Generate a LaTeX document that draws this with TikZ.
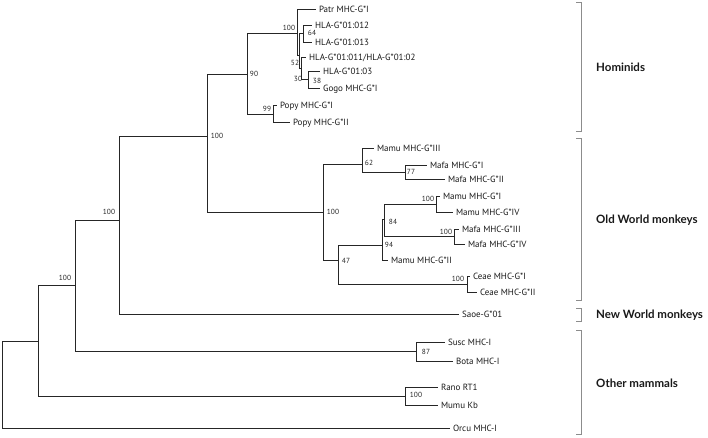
\documentclass[tikz,border=0pt]{standalone}
\usepackage{fontspec}
\setmainfont{PT Sans}
\newfontfamily\cladefont{Lato}
\begin{document}
\begin{tikzpicture}[x=1pt,y=-1pt,
  br/.style={draw=black!85, line width=1pt},
  leaf/.style={anchor=base west, inner sep=0pt, xshift=2.8pt, yshift=-3.2pt, font=\fontsize{9}{10}\selectfont, text=black!90},
  boot/.style={inner sep=0pt, font=\fontsize{7.4}{8}\selectfont, text=black!85},
  clade/.style={anchor=west, inner sep=0pt, font=\cladefont\bfseries\fontsize{11.5}{13}\selectfont, text=black!90},
  bracket/.style={draw=black!45, line width=0.8pt}]
\useasboundingbox (0,0) rectangle (708,437);

% internal nodes
\coordinate (root) at (2,385);
\coordinate (n38) at (38,341);
\coordinate (n75) at (75,285);
\coordinate (n119) at (119,220);
\coordinate (n208) at (207,136);
\coordinate (n247) at (247,74);
\coordinate (nP) at (297,33);
\coordinate (n52) at (299,55);
\coordinate (n64) at (303,33.5);
\coordinate (n30) at (301,68);
\coordinate (nG) at (308,79.5);
\coordinate (nPopy) at (273,114);
\coordinate (nOWM) at (323,212);
\coordinate (n62) at (362,164);
\coordinate (n77) at (405,172);
\coordinate (n47) at (338,260);
\coordinate (n94) at (382,245);
\coordinate (n84) at (384,219.5);
\coordinate (nMamu) at (436,204);
\coordinate (nMafa) at (454,236);
\coordinate (nCeae) at (467,284);
\coordinate (nSusc) at (416,351);
\coordinate (nRano) at (405,396);

% leaves
\coordinate (l1) at (316,9);
\coordinate (l2) at (312,25);
\coordinate (l3) at (312,42);
\coordinate (l4) at (306,57);
\coordinate (l5) at (320,71);
\coordinate (l6) at (320,88);
\coordinate (l7) at (277,105);
\coordinate (l8) at (290,122);
\coordinate (l9) at (374,148);
\coordinate (l10) at (427,165);
\coordinate (l11) at (445,179);
\coordinate (l12) at (440,196);
\coordinate (l13) at (453,212);
\coordinate (l14) at (459,229);
\coordinate (l15) at (465,244);
\coordinate (l16) at (388,260);
\coordinate (l17) at (470,276);
\coordinate (l18) at (477,292);
\coordinate (l19) at (459,314);
\coordinate (l20) at (445,342);
\coordinate (l21) at (453,361);
\coordinate (l22) at (438,387);
\coordinate (l23) at (438,405);
\coordinate (l24) at (450,428);

\node[leaf] (t1) at (l1) {Patr MHC-G*I};
\node[leaf] (t2) at (l2) {HLA-G*01:012};
\node[leaf] (t3) at (l3) {HLA-G*01:013};
\node[leaf] (t4) at (l4) {HLA-G*01:011/HLA-G*01:02};
\node[leaf] (t5) at (l5) {HLA-G*01:03};
\node[leaf] (t6) at (l6) {Gogo MHC-G*I};
\node[leaf] (t7) at (l7) {Popy MHC-G*I};
\node[leaf] (t8) at (l8) {Popy MHC-G*II};
\node[leaf] (t9) at (l9) {Mamu MHC-G*III};
\node[leaf] (t10) at (l10) {Mafa MHC-G*I};
\node[leaf] (t11) at (l11) {Mafa MHC-G*II};
\node[leaf] (t12) at (l12) {Mamu MHC-G*I};
\node[leaf] (t13) at (l13) {Mamu MHC-G*IV};
\node[leaf] (t14) at (l14) {Mafa MHC-G*III};
\node[leaf] (t15) at (l15) {Mafa MHC-G*IV};
\node[leaf] (t16) at (l16) {Mamu MHC-G*II};
\node[leaf] (t17) at (l17) {Ceae MHC-G*I};
\node[leaf] (t18) at (l18) {Ceae MHC-G*II};
\node[leaf] (t19) at (l19) {Saoe-G*01};
\node[leaf] (t20) at (l20) {Susc MHC-I};
\node[leaf] (t21) at (l21) {Bota MHC-I};
\node[leaf] (t22) at (l22) {Rano RT1};
\node[leaf] (t23) at (l23) {Mumu Kb};
\node[leaf] (t24) at (l24) {Orcu MHC-I};

% branches
\draw[br] (root) |- (n38);
\draw[br] (root) |- (l24);
\draw[br] (n38) |- (n75);
\draw[br] (n38) |- (nRano);
\draw[br] (n75) |- (n119);
\draw[br] (n75) |- (nSusc);
\draw[br] (n119) |- (n208);
\draw[br] (n119) |- (l19);
\draw[br] (n208) |- (n247);
\draw[br] (n208) |- (nOWM);
\draw[br] (n247) |- (nP);
\draw[br] (n247) |- (nPopy);
\draw[br] (nP) |- (l1);
\draw[br] (nP) |- (n52);
\draw[br] (n52) |- (n64);
\draw[br] (n52) |- (n30);
\draw[br] (n64) |- (l2);
\draw[br] (n64) |- (l3);
\draw[br] (n30) |- (l4);
\draw[br] (n30) |- (nG);
\draw[br] (nG) |- (l5);
\draw[br] (nG) |- (l6);
\draw[br] (nPopy) |- (l7);
\draw[br] (nPopy) |- (l8);
\draw[br] (nOWM) |- (n62);
\draw[br] (nOWM) |- (n47);
\draw[br] (n62) |- (l9);
\draw[br] (n62) |- (n77);
\draw[br] (n77) |- (l10);
\draw[br] (n77) |- (l11);
\draw[br] (n47) |- (n94);
\draw[br] (n47) |- (nCeae);
\draw[br] (n94) |- (n84);
\draw[br] (n94) |- (l16);
\draw[br] (n84) |- (nMamu);
\draw[br] (n84) |- (nMafa);
\draw[br] (nMamu) |- (l12);
\draw[br] (nMamu) |- (l13);
\draw[br] (nMafa) |- (l14);
\draw[br] (nMafa) |- (l15);
\draw[br] (nCeae) |- (l17);
\draw[br] (nCeae) |- (l18);
\draw[br] (nSusc) |- (l20);
\draw[br] (nSusc) |- (l21);
\draw[br] (nRano) |- (l22);
\draw[br] (nRano) |- (l23);

% bootstrap values
\node[boot] (b1) at (289,28) {100};
\node[boot] (b2) at (312,33) {64};
\node[boot] (b3) at (295,63) {52};
\node[boot] (b4) at (298,79) {30};
\node[boot] (b5) at (317,81) {38};
\node[boot] (b6) at (254,74) {90};
\node[boot] (b7) at (267,109) {99};
\node[boot] (b8) at (217,136) {100};
\node[boot] (b9) at (369,163) {62};
\node[boot] (b10) at (411,172) {77};
\node[boot] (b11) at (333,212) {100};
\node[boot] (b12) at (393,222) {84};
\node[boot] (b13) at (389,245) {94};
\node[boot] (b14) at (346,261) {47};
\node[boot] (b15) at (428,199) {100};
\node[boot] (b16) at (446,232) {100};
\node[boot] (b17) at (458,279) {100};
\node[boot] (b18) at (109,212) {100};
\node[boot] (b19) at (65,278) {100};
\node[boot] (b20) at (426,352) {87};
\node[boot] (b21) at (416,395) {100};

% clade brackets
\draw[bracket] (576,2) -- (581,2) -- (581,131) -- (576,131);
\draw[bracket] (576,138) -- (581,138) -- (581,300) -- (576,300);
\draw[bracket] (576,308) -- (581,308) -- (581,321) -- (576,321);
\draw[bracket] (576,330) -- (581,330) -- (581,434) -- (576,434);

\node[clade] (c1) at (596,67) {Hominids};
\node[clade] (c2) at (596,220) {Old World monkeys};
\node[clade] (c3) at (596,315) {New World monkeys};
\node[clade] (c4) at (596,383) {Other mammals};
\end{tikzpicture}
\end{document}
